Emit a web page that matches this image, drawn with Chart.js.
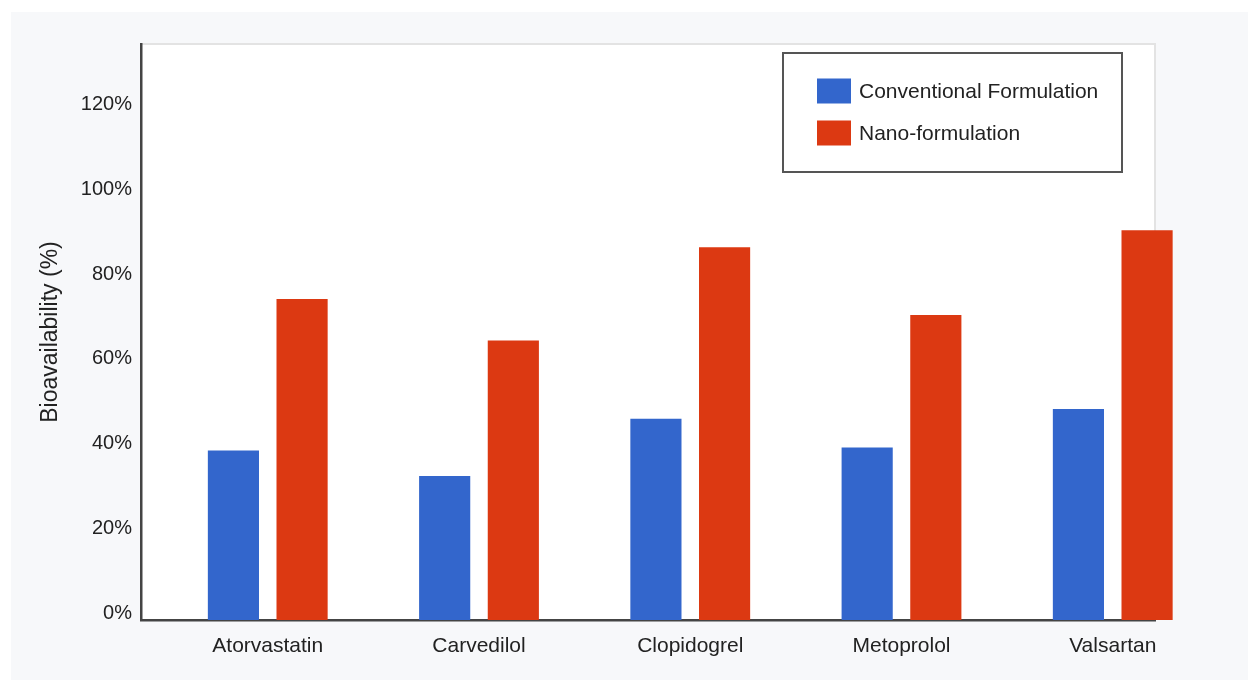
<!DOCTYPE html>
<html>
<head>
<meta charset="utf-8">
<script src="https://cdn.jsdelivr.net/npm/chart.js@4/dist/chart.umd.min.js"></script>
<style>
  html, body { margin: 0; padding: 0; background: #fff; }
  #wrap { width: 1248px; height: 681px; position: relative; }
</style>
</head>
<body>
<div id="wrap"><canvas id="bioChart"></canvas></div>
<script>
// Drugs on the x axis
const drugs = ['Atorvastatin', 'Carvedilol', 'Clopidogrel', 'Metoprolol', 'Valsartan'];
// Bioavailability (%) per formulation
const conventional = [40, 34, 47.5, 40.7, 49.8];
const nano = [75.8, 66, 88, 72, 92];
// y tick values
const yTicks = [0, 20, 40, 60, 80, 100, 120];

const FONT = '"Liberation Sans", Arial, sans-serif';
const TEXT = '#222';

// Grey page, white plot area with a faint top/right frame
const backdrop = {
  id: 'backdrop',
  beforeDraw(chart) {
    const { ctx, chartArea: a, width, height } = chart;
    ctx.save();
    ctx.fillStyle = '#fff';
    ctx.fillRect(0, 0, width, height);
    ctx.fillStyle = '#f7f8fa';
    ctx.fillRect(11, 12, width - 11, height - 13);
    ctx.fillStyle = '#fff';
    ctx.fillRect(a.left, a.top, a.right - a.left, a.bottom - a.top);
    ctx.strokeStyle = '#e3e3e3';
    ctx.lineWidth = 2;
    ctx.beginPath();
    ctx.moveTo(a.left, a.top);
    ctx.lineTo(a.right, a.top);
    ctx.lineTo(a.right, a.bottom);
    ctx.stroke();
    ctx.restore();
  }
};

// Boxed legend in the top right of the plot
const boxLegend = {
  id: 'boxLegend',
  afterDraw(chart) {
    const { ctx, chartArea: a } = chart;
    const w = 339, h = 119;
    const left = a.right - 33 - w, top = a.top + 9;
    ctx.save();
    ctx.strokeStyle = '#555';
    ctx.lineWidth = 2;
    ctx.strokeRect(left, top, w, h);
    ctx.font = '21px ' + FONT;
    ctx.textBaseline = 'middle';
    chart.data.datasets.forEach((ds, i) => {
      const y = top + 38 + i * 42;
      ctx.fillStyle = ds.backgroundColor;
      ctx.fillRect(left + 34, y - 12.5, 34, 25);
      ctx.fillStyle = TEXT;
      ctx.fillText(ds.label, left + 76, y + 1);
    });
    ctx.restore();
  }
};

const ctx = document.getElementById('bioChart').getContext('2d');
new Chart(ctx, {
  type: 'bar',
  data: {
    datasets: [
      {
        label: 'Conventional Formulation',
        data: conventional.map((v, i) => ({ x: i, y: v })),
        backgroundColor: '#3366cc'
      },
      {
        label: 'Nano-formulation',
        data: nano.map((v, i) => ({ x: i, y: v })),
        backgroundColor: '#dc3912'
      }
    ]
  },
  options: {
    responsive: true,
    maintainAspectRatio: false,
    animation: false,
    layout: { padding: { top: 44, right: 93, bottom: 0, left: 0 } },
    datasets: {
      bar: { categoryPercentage: 0.65, barPercentage: 0.745, clip: false }
    },
    plugins: {
      legend: { display: false },
      tooltip: { enabled: false }
    },
    scales: {
      x: {
        type: 'linear',
        offset: false,
        min: -0.6,
        max: 4.2,
        grid: { display: false, drawTicks: false, offset: false },
        border: { display: true, color: '#444', width: 2.5 },
        afterBuildTicks: s => { s.ticks = drugs.map((d, i) => ({ value: i })); },
        afterFit: s => { s.height = 61; },
        ticks: {
          autoSkip: false,
          maxRotation: 0,
          padding: 14,
          color: TEXT,
          font: { family: FONT, size: 21 },
          callback: v => drugs[v]
        }
      },
      y: {
        min: 0,
        max: 136,
        grid: { display: false, drawTicks: false },
        border: { display: true, color: '#444', width: 2.5 },
        afterBuildTicks: s => { s.ticks = yTicks.map(v => ({ value: v })); },
        afterFit: s => { s.width = 141; },
        title: {
          display: true,
          text: 'Bioavailability (%)',
          color: TEXT,
          font: { family: FONT, size: 23 },
          padding: { top: 37, bottom: 0 }
        },
        ticks: {
          padding: 9,
          labelOffset: -7,
          color: TEXT,
          font: { family: FONT, size: 20 },
          callback: v => v + '%'
        }
      }
    }
  },
  plugins: [backdrop, boxLegend]
});
</script>
</body>
</html>
